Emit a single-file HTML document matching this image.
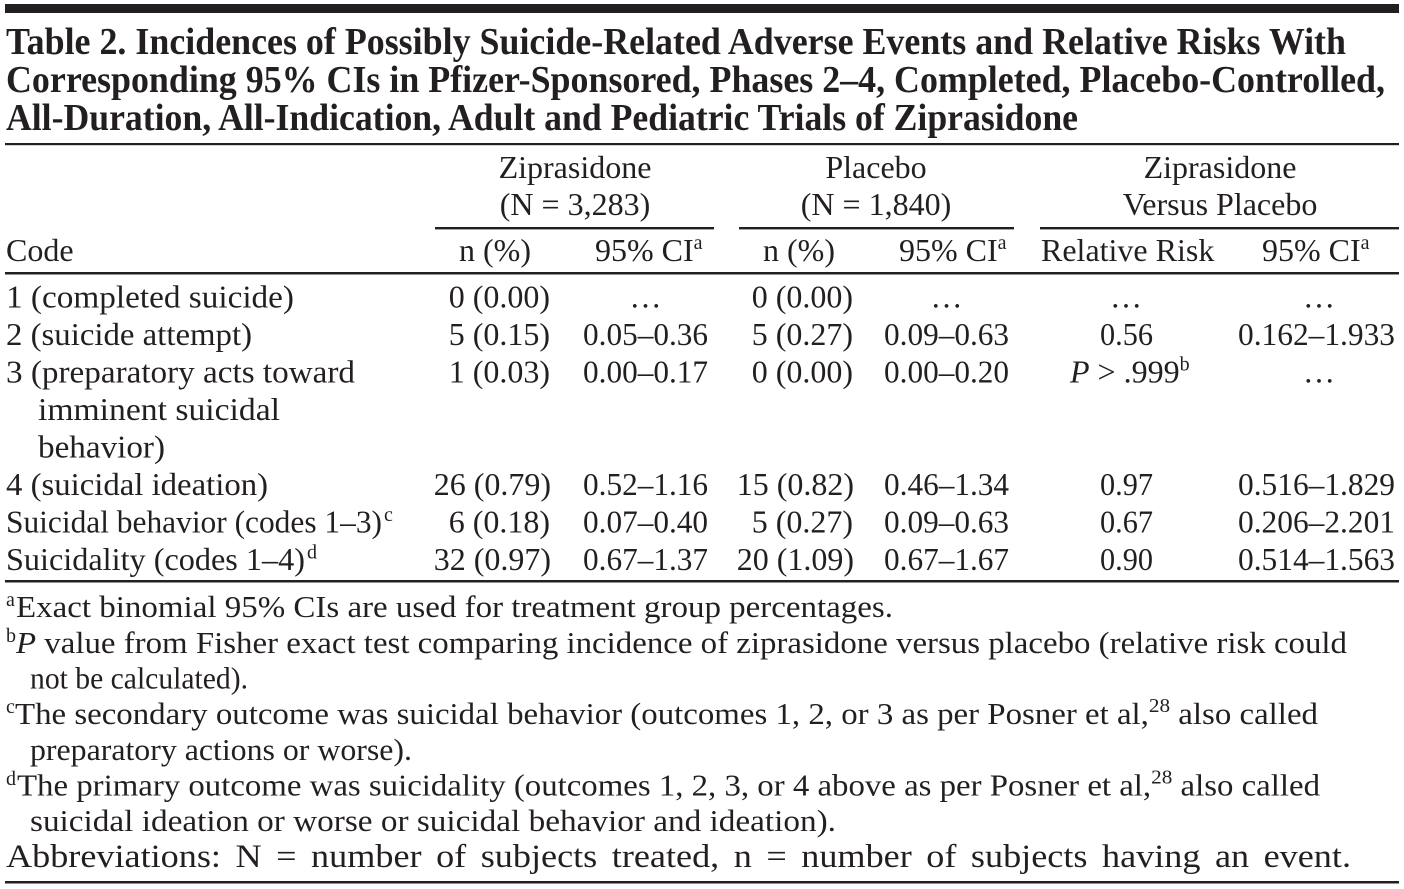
<!DOCTYPE html>
<html>
<head>
<meta charset="utf-8">
<style>
html,body{margin:0;padding:0;background:#fff;}
svg{display:block;}
</style>
</head>
<body>
<svg width="1404" height="889" viewBox="0 0 1404 889" xmlns="http://www.w3.org/2000/svg" font-family="'Liberation Serif', serif" fill="#231f20">
<rect width="1404" height="889" fill="#fff"/>
<!-- top bar -->
<rect x="5" y="4" width="1394" height="9" fill="#231f20"/>
<!-- title -->
<g font-size="38" font-weight="bold">
<text x="6" y="54" textLength="1340" lengthAdjust="spacingAndGlyphs">Table 2. Incidences of Possibly Suicide-Related Adverse Events and Relative Risks With</text>
<text x="6" y="92" textLength="1379" lengthAdjust="spacingAndGlyphs">Corresponding 95% CIs in Pfizer-Sponsored, Phases 2–4, Completed, Placebo-Controlled,</text>
<text x="6" y="130" textLength="1072" lengthAdjust="spacingAndGlyphs">All-Duration, All-Indication, Adult and Pediatric Trials of Ziprasidone</text>
</g>
<rect x="5" y="143" width="1394" height="2.2" fill="#231f20"/>

<!-- header -->
<g font-size="32">
<text x="575" y="178" text-anchor="middle">Ziprasidone</text>
<text x="575" y="215" text-anchor="middle">(N = 3,283)</text>
<text x="876" y="178" text-anchor="middle">Placebo</text>
<text x="876" y="215" text-anchor="middle">(N = 1,840)</text>
<text x="1220" y="178" text-anchor="middle">Ziprasidone</text>
<text x="1220" y="215" text-anchor="middle">Versus Placebo</text>
</g>
<rect x="435" y="227" width="279" height="2.4" fill="#231f20"/>
<rect x="739" y="227" width="275" height="2.4" fill="#231f20"/>
<rect x="1040" y="227" width="359" height="2.4" fill="#231f20"/>

<g font-size="32">
<text x="6" y="261">Code</text>
<text x="459" y="261">n (%)</text>
<text x="595" y="261">95% CI<tspan font-size="20" dy="-12">a</tspan></text>
<text x="763" y="261">n (%)</text>
<text x="899" y="261">95% CI<tspan font-size="20" dy="-12">a</tspan></text>
<text x="1041" y="261">Relative Risk</text>
<text x="1262" y="261">95% CI<tspan font-size="20" dy="-12">a</tspan></text>
</g>
<rect x="5" y="272" width="1394" height="2.5" fill="#231f20"/>

<!-- body rows -->
<g font-size="32">
<!-- row 1 -->
<text x="6" y="307.5" textLength="288" lengthAdjust="spacingAndGlyphs">1 (completed suicide)</text>
<text x="550" y="307.5" text-anchor="end">0 (0.00)</text>
<text x="645.5" y="307.5" text-anchor="middle">…</text>
<text x="853" y="307.5" text-anchor="end">0 (0.00)</text>
<text x="946.5" y="307.5" text-anchor="middle">…</text>
<text x="1126" y="307.5" text-anchor="middle">…</text>
<text x="1319" y="307.5" text-anchor="middle">…</text>
<!-- row 2 -->
<text x="6" y="345" textLength="246" lengthAdjust="spacingAndGlyphs">2 (suicide attempt)</text>
<text x="550" y="345" text-anchor="end">5 (0.15)</text>
<text x="583" y="345" textLength="125" lengthAdjust="spacingAndGlyphs">0.05–0.36</text>
<text x="853" y="345" text-anchor="end">5 (0.27)</text>
<text x="884" y="345" textLength="125" lengthAdjust="spacingAndGlyphs">0.09–0.63</text>
<text x="1100" y="345" textLength="53" lengthAdjust="spacingAndGlyphs">0.56</text>
<text x="1238" y="345" textLength="157" lengthAdjust="spacingAndGlyphs">0.162–1.933</text>
<!-- row 3 -->
<text x="6" y="382.5" textLength="349" lengthAdjust="spacingAndGlyphs">3 (preparatory acts toward</text>
<text x="550" y="382.5" text-anchor="end">1 (0.03)</text>
<text x="583" y="382.5" textLength="125" lengthAdjust="spacingAndGlyphs">0.00–0.17</text>
<text x="853" y="382.5" text-anchor="end">0 (0.00)</text>
<text x="884" y="382.5" textLength="125" lengthAdjust="spacingAndGlyphs">0.00–0.20</text>
<text x="1070" y="382.5"><tspan font-style="italic">P</tspan> &gt; .999<tspan font-size="20" dy="-12">b</tspan></text>
<text x="1319" y="382.5" text-anchor="middle">…</text>
<!-- row 3 continuation -->
<text x="38" y="420" textLength="242" lengthAdjust="spacingAndGlyphs">imminent suicidal</text>
<text x="38" y="457.5" textLength="127" lengthAdjust="spacingAndGlyphs">behavior)</text>
<!-- row 4 -->
<text x="6" y="495" textLength="262" lengthAdjust="spacingAndGlyphs">4 (suicidal ideation)</text>
<text x="551" y="495" text-anchor="end">26 (0.79)</text>
<text x="583" y="495" textLength="125" lengthAdjust="spacingAndGlyphs">0.52–1.16</text>
<text x="854" y="495" text-anchor="end">15 (0.82)</text>
<text x="884" y="495" textLength="125" lengthAdjust="spacingAndGlyphs">0.46–1.34</text>
<text x="1100" y="495" textLength="53" lengthAdjust="spacingAndGlyphs">0.97</text>
<text x="1238" y="495" textLength="157" lengthAdjust="spacingAndGlyphs">0.516–1.829</text>
<!-- row 5 -->
<text x="6" y="532.5" textLength="376" lengthAdjust="spacingAndGlyphs">Suicidal behavior (codes 1–3)</text>
<text x="384" y="521" font-size="20">c</text>
<text x="550" y="532.5" text-anchor="end">6 (0.18)</text>
<text x="583" y="532.5" textLength="125" lengthAdjust="spacingAndGlyphs">0.07–0.40</text>
<text x="853" y="532.5" text-anchor="end">5 (0.27)</text>
<text x="884" y="532.5" textLength="125" lengthAdjust="spacingAndGlyphs">0.09–0.63</text>
<text x="1100" y="532.5" textLength="53" lengthAdjust="spacingAndGlyphs">0.67</text>
<text x="1238" y="532.5" textLength="157" lengthAdjust="spacingAndGlyphs">0.206–2.201</text>
<!-- row 6 -->
<text x="6" y="570" textLength="299" lengthAdjust="spacingAndGlyphs">Suicidality (codes 1–4)</text>
<text x="307" y="558.5" font-size="20">d</text>
<text x="551" y="570" text-anchor="end">32 (0.97)</text>
<text x="583" y="570" textLength="125" lengthAdjust="spacingAndGlyphs">0.67–1.37</text>
<text x="854" y="570" text-anchor="end">20 (1.09)</text>
<text x="884" y="570" textLength="125" lengthAdjust="spacingAndGlyphs">0.67–1.67</text>
<text x="1100" y="570" textLength="53" lengthAdjust="spacingAndGlyphs">0.90</text>
<text x="1238" y="570" textLength="157" lengthAdjust="spacingAndGlyphs">0.514–1.563</text>
</g>
<rect x="5" y="580" width="1394" height="2.5" fill="#231f20"/>

<!-- footnotes -->
<g font-size="31">
<text x="6" y="606" font-size="20">a</text>
<text x="16" y="617" textLength="877" lengthAdjust="spacingAndGlyphs">Exact binomial 95% CIs are used for treatment group percentages.</text>

<text x="6" y="642" font-size="20">b</text>
<text x="16" y="653" textLength="1331" lengthAdjust="spacingAndGlyphs"><tspan font-style="italic">P</tspan> value from Fisher exact test comparing incidence of ziprasidone versus placebo (relative risk could</text>
<text x="30" y="688.5" textLength="218" lengthAdjust="spacingAndGlyphs">not be calculated).</text>

<text x="6" y="713" font-size="20">c</text>
<text x="15" y="724" textLength="1303" lengthAdjust="spacingAndGlyphs">The secondary outcome was suicidal behavior (outcomes 1, 2, or 3 as per Posner et al,<tspan font-size="20" dy="-12">28</tspan><tspan dy="12"> also called</tspan></text>
<text x="30" y="760" textLength="382" lengthAdjust="spacingAndGlyphs">preparatory actions or worse).</text>

<text x="6" y="785" font-size="20">d</text>
<text x="17" y="795.5" textLength="1303" lengthAdjust="spacingAndGlyphs">The primary outcome was suicidality (outcomes 1, 2, 3, or 4 above as per Posner et al,<tspan font-size="20" dy="-12">28</tspan><tspan dy="12"> also called</tspan></text>
<text x="30" y="831" textLength="806" lengthAdjust="spacingAndGlyphs">suicidal ideation or worse or suicidal behavior and ideation).</text>

<text x="6" y="867" font-size="33" word-spacing="5" textLength="1345" lengthAdjust="spacingAndGlyphs">Abbreviations: N = number of subjects treated, n = number of subjects having an event.</text>
</g>
<rect x="5" y="881" width="1394" height="2.5" fill="#231f20"/>
</svg>
</body>
</html>
